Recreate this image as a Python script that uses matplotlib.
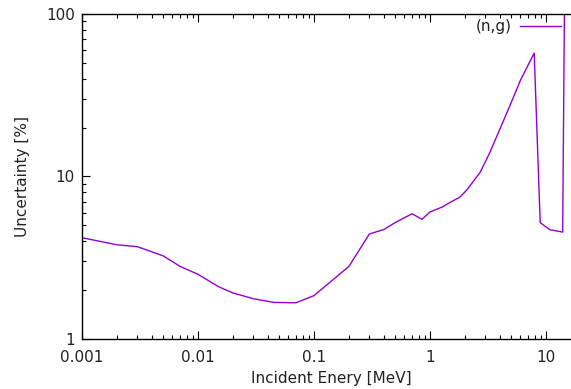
import numpy as np
import matplotlib.pyplot as plt
from matplotlib.ticker import LogLocator, NullFormatter, FixedLocator, FixedFormatter

# energy grid [MeV] and relative uncertainty [%] for (n,g)
energy = [0.001, 0.002, 0.003, 0.005, 0.007, 0.01, 0.015, 0.02, 0.03, 0.045,
          0.07, 0.1, 0.2, 0.3, 0.4, 0.5, 0.7, 0.85, 1.0, 1.28, 1.5, 1.8, 2.07,
          2.7, 3.3, 4.9, 6.0, 7.9, 8.9, 10.8, 13.9, 14.4]
uncert = [4.2, 3.8, 3.7, 3.25, 2.8, 2.5, 2.1, 1.92, 1.77, 1.68,
          1.67, 1.85, 2.8, 4.43, 4.72, 5.2, 5.9, 5.45, 6.05, 6.5, 6.95, 7.45, 8.25,
          10.6, 14.2, 27.5, 39.0, 57.5, 5.2, 4.7, 4.55, 110.0]

xticks = [0.001, 0.01, 0.1, 1, 10]
xlabels = ["0.001", "0.01", "0.1", "1", "10"]
yticks = [1, 10, 100]
ylabels = ["1", "10", "100"]

plt.rcParams['font.family'] = 'DejaVu Sans'
plt.rcParams['font.size'] = 9
txt = '#222222'

fig = plt.figure(figsize=(5.71, 3.89), dpi=100)
# right end of the frame runs off the picture, like the original
ax = fig.add_axes([82/571, 1-339/389, 499/571, 325/389])

ax.plot(energy, uncert, color='#9400d3', lw=1.0, label='(n,g)')

ax.set_xscale('log')
ax.set_yscale('log')
ax.set_xlim(0.001, 20)
ax.set_ylim(1, 100)

ax.xaxis.set_major_locator(FixedLocator(xticks))
ax.xaxis.set_major_formatter(FixedFormatter(xlabels))
ax.yaxis.set_major_locator(FixedLocator(yticks))
ax.yaxis.set_major_formatter(FixedFormatter(ylabels))
for a in (ax.xaxis, ax.yaxis):
    a.set_minor_locator(LogLocator(base=10, subs=np.arange(2, 10)))
    a.set_minor_formatter(NullFormatter())

ax.tick_params(which='both', direction='in', top=True, right=False,
               width=0.8, color='black', labelcolor=txt, labelsize=11)
ax.tick_params(axis='x', pad=8)
ax.tick_params(axis='y', pad=5)
ax.tick_params(which='major', length=6)
ax.tick_params(which='minor', length=3)
for s in ax.spines.values():
    s.set_linewidth(1.0)

ax.set_xlabel('Incident Enery [MeV]', fontsize=11, labelpad=4, color=txt)
ax.set_ylabel('Uncertainty [%]', fontsize=11, labelpad=12, color=txt)

fig.legend(loc='upper right', bbox_to_anchor=(564/571, 1-16/389),
           frameon=False, markerfirst=False, handlelength=2.7,
           handletextpad=0.55, fontsize=11, borderaxespad=0, borderpad=0.2,
           labelcolor=txt)

fig.savefig('out.png', dpi=100)
